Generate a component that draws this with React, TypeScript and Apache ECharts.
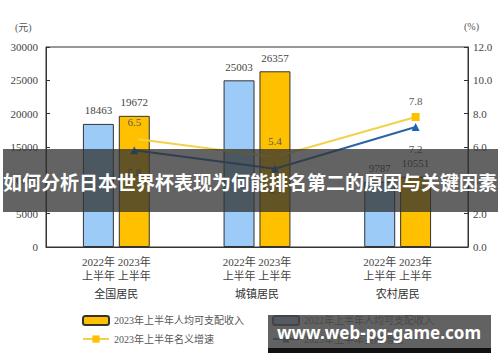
import React, { useEffect, useRef } from "react";
import * as echarts from "echarts";

const groups = ["全国居民", "城镇居民", "农村居民"];
const income2022 = [18463, 25003, 9787];
const income2023 = [19672, 26357, 10551];
const growthNominal = [6.5, 5.4, 7.8];
const growthReal = [5.8, 4.7, 7.2];
const leftTicks = { min: 0, max: 30000, interval: 5000 };
const rightTicks = { min: 0, max: 12, interval: 2 };

const NAME_2023 = "2023年上半年人均可支配收入";
const NAME_2022 = "2022年上半年人均可支配收入";
const NAME_NOM = "2023年上半年名义增速";
const NAME_REAL = "2023年上半年实际增速";

const SERIF = "'Liberation Serif', 'Noto Sans CJK SC', serif";
const BAR_W = 0.22; // fraction of band
const BAR_GAP = 0.16; // fraction of bar width
const OFFSET = (BAR_W + BAR_W * BAR_GAP) / 2; // center of 2023 bar relative to band center

export default function App() {
  const ref = useRef<HTMLDivElement>(null);
  useEffect(() => {
    if (!ref.current) return;
    const chart = echarts.init(ref.current, undefined, { renderer: "svg" });
    const toPts = (arr: number[]) => arr.map((v, i) => [i + 0.5 + OFFSET, v]);
    chart.setOption({
      animation: false,
      textStyle: { fontFamily: SERIF },
      grid: { left: 46, right: 32, top: 47, bottom: 115, show: true, borderColor: "#333", borderWidth: 1 },
      legend: [
        {
          left: 82, top: 315, orient: "vertical", padding: 0, itemGap: 8,
          itemWidth: 26, itemHeight: 9,
          textStyle: { fontSize: 10, color: "#555", fontFamily: SERIF },
          data: [NAME_2023, NAME_NOM],
        },
        {
          left: 272, top: 315, orient: "vertical", padding: 0, itemGap: 8,
          itemWidth: 26, itemHeight: 9,
          textStyle: { fontSize: 10, color: "#555", fontFamily: SERIF },
          data: [NAME_2022, NAME_REAL],
        },
      ],
      xAxis: [
        {
          type: "category",
          data: groups,
          axisLine: { lineStyle: { color: "#333" } },
          axisTick: { show: false },
          axisLabel: {
            margin: 8,
            formatter: (v: string) => `{a|2022年 2023年}\n{a|上半年 上半年}\n{b|${v}}`,
            rich: {
              a: { fontSize: 11, color: "#444", lineHeight: 14, fontFamily: SERIF },
              b: { fontSize: 11, color: "#333", lineHeight: 14, padding: [8, 0, 0, 0], fontFamily: SERIF },
            },
          },
        },
        { type: "value", min: 0, max: 3, show: false },
      ],
      yAxis: [
        {
          type: "value",
          ...leftTicks,
          axisLine: { show: true, lineStyle: { color: "#333" } },
          axisTick: { show: true, inside: true, length: 4, lineStyle: { color: "#333" } },
          splitLine: { show: false },
          axisLabel: { fontSize: 11, color: "#444", margin: 8, fontFamily: SERIF, formatter: (v: number) => String(v) },
        },
        {
          type: "value",
          ...rightTicks,
          position: "right",
          axisLine: { show: true, lineStyle: { color: "#333" } },
          axisTick: { show: true, inside: true, length: 4, lineStyle: { color: "#333" } },
          splitLine: { show: false },
          axisLabel: { fontSize: 11, color: "#444", margin: 5, fontFamily: SERIF, formatter: (v: number) => v.toFixed(1) },
        },
      ],
      series: [
        {
          name: NAME_2022,
          type: "bar",
          data: income2022,
          barWidth: `${BAR_W * 100}%`,
          barGap: `${BAR_GAP * 100}%`,
          itemStyle: { color: "#9ccbf7", borderColor: "#333", borderWidth: 1 },
          label: { show: true, position: "top", distance: 8, fontSize: 11, color: "#444", fontFamily: SERIF },
        },
        {
          name: NAME_2023,
          type: "bar",
          data: income2023,
          barWidth: `${BAR_W * 100}%`,
          barGap: `${BAR_GAP * 100}%`,
          itemStyle: { color: "#ffc000", borderColor: "#333", borderWidth: 1 },
          label: { show: true, position: "top", distance: 8, fontSize: 11, color: "#444", fontFamily: SERIF },
        },
        {
          name: NAME_NOM,
          type: "line",
          xAxisIndex: 1,
          yAxisIndex: 1,
          data: toPts(growthNominal),
          symbol: "rect",
          symbolSize: 8,
          lineStyle: { color: "#f3d24a", width: 2 },
          itemStyle: { color: "#ffc000" },
          label: {
            show: true, position: "top", distance: 7, fontSize: 11, color: "#5a5a5a", fontFamily: SERIF,
            formatter: (p: any) => Number(p.value[1]).toFixed(1),
          },
        },
        {
          name: NAME_REAL,
          type: "line",
          xAxisIndex: 1,
          yAxisIndex: 1,
          data: toPts(growthReal),
          symbol: "triangle",
          symbolSize: 8,
          lineStyle: { color: "#2a64a6", width: 2 },
          itemStyle: { color: "#1f63b5" },
          label: {
            show: true, position: "bottom", distance: 12, fontSize: 11, color: "#5a5a5a", fontFamily: SERIF,
            formatter: (p: any) => Number(p.value[1]).toFixed(1),
          },
        },
      ],
      graphic: [
        { type: "text", left: 15, top: 22, z: 50, style: { text: "(元)", fontSize: 10, fill: "#555", fontFamily: SERIF } },
        { type: "text", left: 464, top: 21, z: 50, style: { text: "(%)", fontSize: 10, fill: "#555", fontFamily: SERIF } },
        { type: "rect", z: 100, shape: { x: 3, y: 149, width: 495, height: 63 }, style: { fill: "rgba(50,50,50,0.76)" } },
        {
          type: "text", z: 101, x: 250, y: 181,
          style: { text: "如何分析日本世界杯表现为何能排名第二的原因与关键因素", fontSize: 19, fontWeight: "bold", fill: "#fff", fontFamily: "'Noto Sans CJK SC'", align: "center", verticalAlign: "middle" },
        },
        { type: "rect", z: 100, shape: { x: 268, y: 315, width: 223, height: 33 }, style: { fill: "rgba(70,70,70,0.85)" } },
        { type: "rect", z: 100, shape: { x: 268, y: 348, width: 223, height: 5 }, style: { fill: "#111" } },
        {
          type: "text", z: 101, x: 379, y: 332,
          style: { text: "www.web-pg-game.com", fontSize: 17, fontWeight: "bold", fill: "#fff", fontFamily: "'Noto Sans', sans-serif", align: "center", verticalAlign: "middle" },
        },
      ],
    });
    return () => chart.dispose();
  }, []);
  return <div ref={ref} style={{ width: 500, height: 362, position: "absolute", left: 0, top: 0 }} />;
}
